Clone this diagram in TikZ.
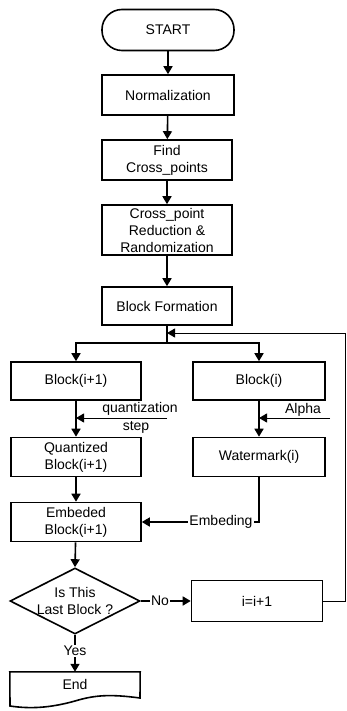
\documentclass[tikz,border=0pt]{standalone}
\usepackage{fontspec}
\setmainfont{Liberation Sans}
\usetikzlibrary{shapes.geometric,arrows.meta}
\begin{document}
\begin{tikzpicture}[x=1pt,y=-1pt,
  box/.style={draw, line width=1.6pt, minimum width=130pt, minimum height=39pt, inner sep=1pt, align=center, font=\fontsize{14}{17}\selectfont},
  arr/.style={line width=1.6pt, -{Triangle[length=8pt,width=9pt]}},
  thinarr/.style={line width=1pt, -{Triangle[length=8pt,width=9pt]}},
  lbl/.style={font=\fontsize{14}{16}\selectfont, inner sep=1pt}]
\useasboundingbox (0,0) rectangle (347,711);

\node[box, rounded corners=20pt, minimum width=132pt, minimum height=41pt] (start) at (168,30) {START};
\node[box, minimum width=132pt, minimum height=40pt] (norm) at (168,95) {Normalization};
\node[box, minimum height=40pt] (find) at (167,160) {Find\\Cross\_points};
\node[box, minimum height=50pt] (red) at (167,230) {Cross\_point\\Reduction \&\\Randomization};
\node[box, minimum height=38pt] (bf) at (167,306) {Block Formation};

\node[box, minimum height=38pt] (b1) at (76,381) {Block(i+1)};
\node[box, minimum width=132pt, minimum height=38pt] (bi) at (259,381) {Block(i)};
\node[box] (q) at (76,457) {Quantized\\Block(i+1)};
\node[box, minimum width=132pt] (wm) at (259,457) {Watermark(i)};
\node[box] (emb) at (76,522) {Embeded\\Block(i+1)};

\node[diamond, draw, line width=1.6pt, minimum width=130pt, minimum height=66pt, inner sep=0pt] (dia) at (75,601) {};
\node[lbl, align=center, font=\fontsize{14}{17}\selectfont] (diatext) at (75,601) {Is This\\Last Block ?};

\node[box, minimum width=131pt, minimum height=41pt] (inc) at (257,601) {i=i+1};

\node[minimum width=130pt, minimum height=24pt, inner sep=0pt, font=\fontsize{14}{17}\selectfont] (endn) at (75,684) {End};
\draw[line width=1.6pt] (endn.north west) -- (endn.north east) -- (140,698)
  .. controls (110,694) and (95,695) .. (75,701)
  .. controls (50,708) and (30,709) .. (10,706) -- cycle;

% main flow
\draw[arr] (start) -- (norm);
\draw[arr] (norm) -- (find);
\draw[arr] (find) -- (red);
\draw[arr] (red) -- (bf);

\coordinate (j) at (167,343);
\draw[line width=1.6pt] (bf.south) -- (j);
\draw[arr] (j) -| (b1.north);
\draw[arr] (j) -| (bi.north);

% return loop
\coordinate (rc) at (345,333);
\coordinate (r) at (167,333);
\draw[thinarr] (inc.east) -| (rc) -- (r);

% quantization step
\coordinate (qs) at (167,418);
\draw[arr] (b1) -- (q);
\draw[thinarr] (qs) -- (b1.south |- qs);
\node[lbl] (qlab) at (140,409) {quantization};
\node[lbl] (slab) at (136,427) {step};

% alpha
\coordinate (as) at (330,418);
\draw[arr] (bi) -- (wm);
\draw[thinarr] (as) -- (bi.south |- as);
\node[lbl] (alab) at (303,410) {Alpha};

% embedding
\draw[arr] (q) -- (emb);
\draw[arr] (wm.south) |- (emb.east);
\node[lbl, fill=white] (emlab) at (221,522) {Embeding};

% decision
\draw[arr] (emb) -- (dia.north);
\draw[arr] (dia.east) -- (inc.west);
\node[lbl, fill=white] (nolab) at (160,601) {No};
\draw[arr] (dia.south) -- (endn.north);
\node[lbl, fill=white] (yeslab) at (75,651) {Yes};
\end{tikzpicture}
\end{document}
